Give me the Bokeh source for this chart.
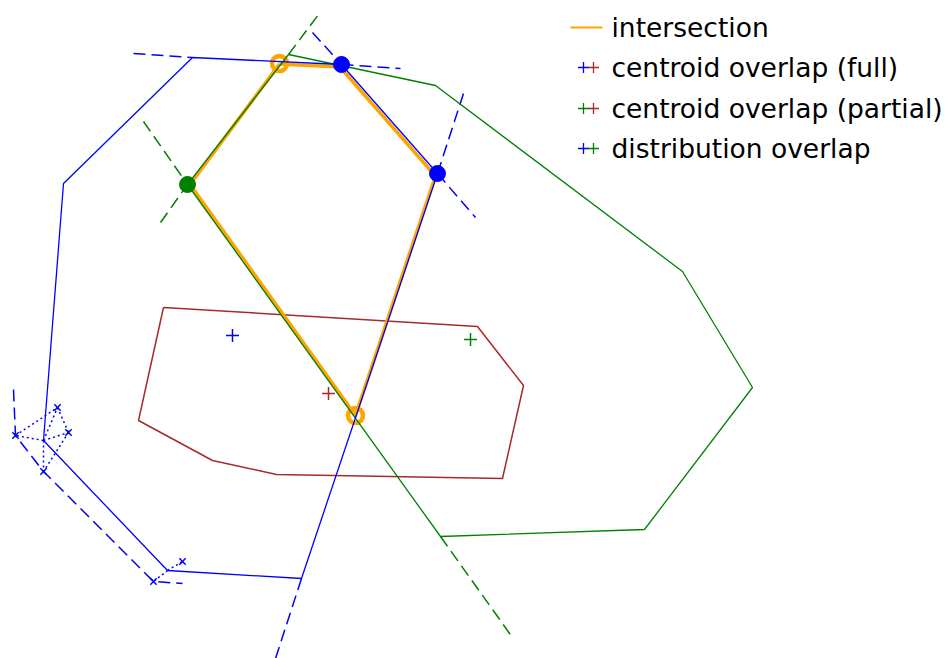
from bokeh.plotting import figure
from bokeh.models import Range1d
from bokeh.core.properties import value
from bokeh.embed import file_html
from bokeh.resources import INLINE

# ---- data (picture coordinates, y downwards) ----
blue_poly_x = [192, 341, 437, 301, 167, 43, 63, 192]
blue_poly_y = [57, 64, 173, 578, 570, 440, 183, 57]

green_poly_x = [288, 435, 682, 752, 644, 440, 187, 288]
green_poly_y = [54, 85, 271, 387, 529, 536, 184, 54]

red_poly_x = [163, 477, 523, 502, 276, 212, 138, 163]
red_poly_y = [307, 326, 385, 478, 474, 460, 420, 307]

inter_x = [279, 339.5, 435, 355, 189.5, 279]
inter_y = [63.5, 66.5, 175.5, 415, 184, 63.5]

blue_ext_xs = [[133, 192], [341, 400], [312, 341], [437, 475], [463, 437], [301, 275]]
blue_ext_ys = [[53, 57], [64, 68], [32, 64], [173, 217], [93, 173], [578, 658]]

green_ext_xs = [[160, 187], [288, 318], [143, 187], [440, 512]]
green_ext_ys = [[222, 184], [54, 14], [121, 184], [536, 637]]

offset_x = [13, 15, 43, 153, 182]
offset_y = [389, 435, 471, 581, 583]

dot_xs = [[43, 15], [43, 57], [43, 68], [43, 43], [15, 57], [57, 68], [68, 43], [167, 153], [167, 182]]
dot_ys = [[440, 435], [440, 407], [440, 432], [440, 471], [435, 407], [407, 432], [432, 471], [570, 581], [570, 561]]

xmark_x = [15, 43, 57, 68, 153, 182]
xmark_y = [435, 471, 407, 432, 581, 561]

orange_pt_x = [279, 355]
orange_pt_y = [63, 415]
blue_pt_x = [341, 437]
blue_pt_y = [64, 173]
green_pt_x = [187]
green_pt_y = [184]

cross_x = [232, 470, 328]
cross_y = [335, 339, 393]
cross_c = ["blue", "green", "firebrick"]

legend_labels = ["intersection", "centroid overlap (full)", "centroid overlap (partial)", "distribution overlap"]
legend_pairs = [("blue", "firebrick"), ("green", "firebrick"), ("blue", "green")]

W, H = 949, 658
p = figure(width=W, height=H, x_range=Range1d(0, W), y_range=Range1d(H, 0),
           output_backend="svg", toolbar_location=None, min_border=0)
p.axis.visible = False
p.grid.visible = False
p.outline_line_color = None
p.background_fill_color = "white"
p.border_fill_color = "white"

DASH = "12 6"
p.multi_line(blue_ext_xs, blue_ext_ys, line_color="blue", line_width=1.5, line_dash=DASH)
p.multi_line(green_ext_xs, green_ext_ys, line_color="green", line_width=1.5, line_dash=DASH)
p.line(offset_x, offset_y, line_color="blue", line_width=1.5, line_dash=DASH)
p.multi_line(dot_xs, dot_ys, line_color="blue", line_width=1.5, line_dash="2 3")
p.scatter(xmark_x, xmark_y, marker="x", size=9, line_color="blue", line_width=1.5)

p.line(red_poly_x, red_poly_y, line_color="#a52a2a", line_width=1.5)

# intersection under the polygon outlines
p.line(inter_x, inter_y, line_color="orange", line_width=3.6, line_join="round")
p.scatter(orange_pt_x, orange_pt_y, marker="circle", size=15, fill_color=None,
          line_color="orange", line_width=4.5)

p.line(green_poly_x, green_poly_y, line_color="green", line_width=1.3)
p.line(blue_poly_x, blue_poly_y, line_color="blue", line_width=1.3)

p.scatter(blue_pt_x, blue_pt_y, marker="circle", size=16, fill_color="blue", line_color="blue")
p.scatter(green_pt_x, green_pt_y, marker="circle", size=16, fill_color="green", line_color="green")
p.scatter(cross_x, cross_y, marker="cross", size=13, line_color=cross_c, line_width=1.5)

# ---- manual legend ----
leg_y = [27, 67, 108, 148]
p.line([570, 602], [leg_y[0], leg_y[0]], line_color="orange", line_width=2)
for (c1, c2), yy in zip(legend_pairs, leg_y[1:]):
    p.scatter([583], [yy], marker="cross", size=11, line_color=c1, line_width=1.3)
    p.scatter([593], [yy], marker="cross", size=11, line_color=c2, line_width=1.3)
p.text(x=[611] * 4, y=leg_y, text=legend_labels, text_font=value("DejaVu Sans"),
       text_font_size="26.5px", text_baseline="middle", text_align="left", text_color="black")

open("out.html", "w").write(file_html(p, INLINE))
